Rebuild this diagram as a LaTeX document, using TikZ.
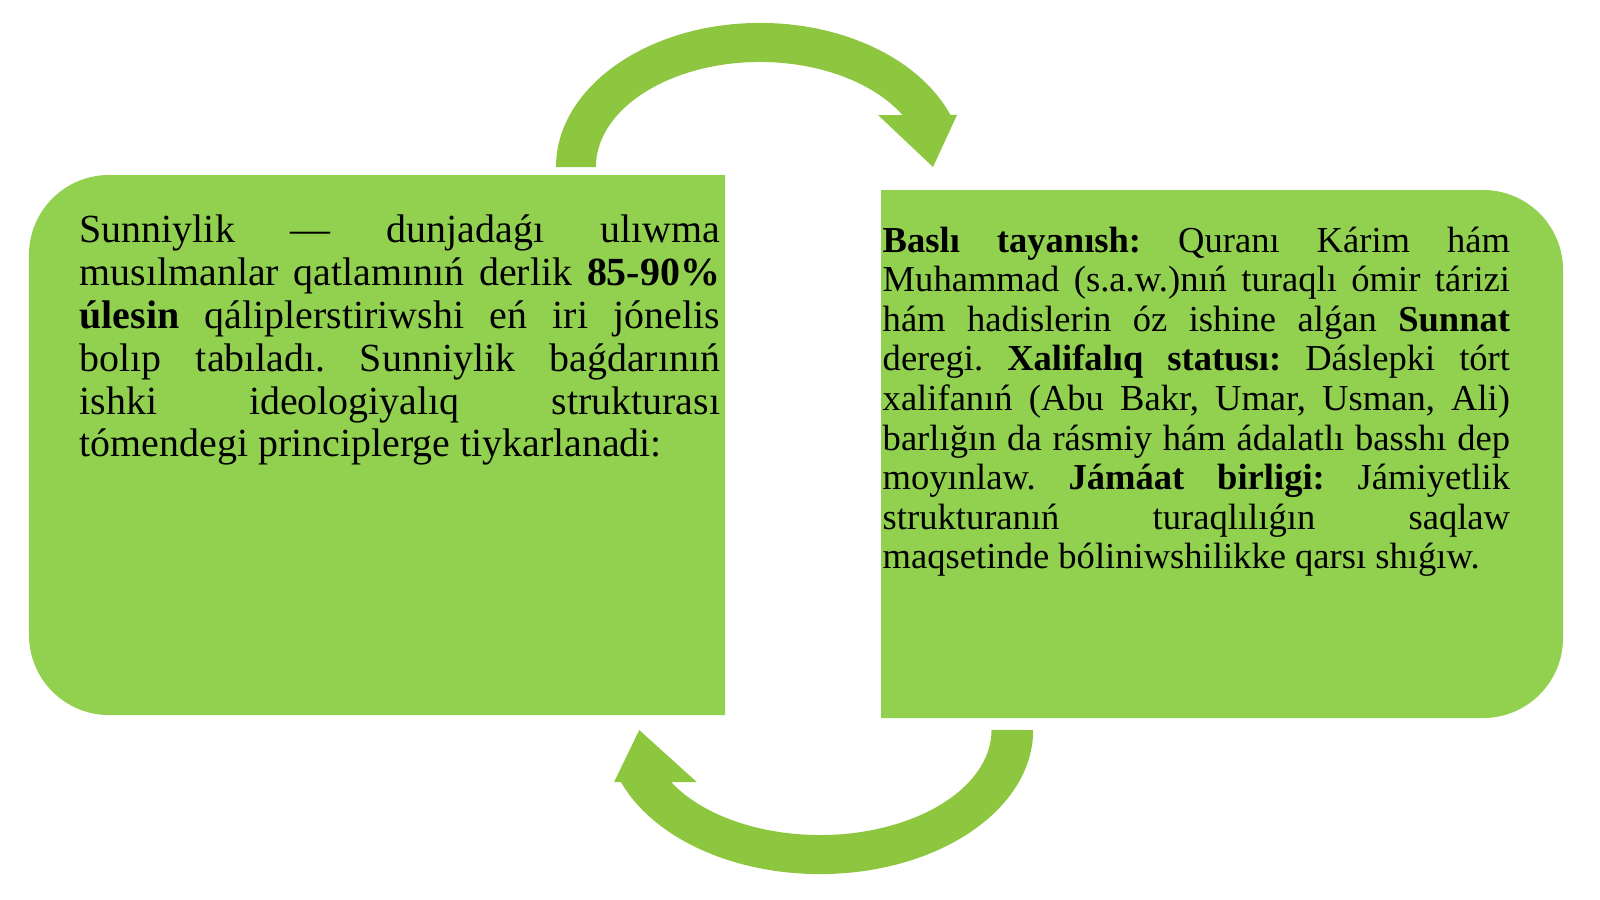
\documentclass[tikz,border=0pt]{standalone}
\usepackage{fontspec}
\setmainfont{Liberation Serif}
\usetikzlibrary{positioning}
\definecolor{boxgreen}{HTML}{92D050}
\definecolor{arrowgreen}{HTML}{8DC63F}

\begin{document}
\begin{tikzpicture}[
    x=0.01cm, y=0.01cm,
    panel/.style={fill=boxgreen},
    paneltext/.style={inner sep=0pt, align=justify, text=black, anchor=north west},
    curved arrow/.pic={
        \fill[arrowgreen] (-204,0) arc[start angle=180, end angle=21.2, x radius=2.04cm, y radius=1.44cm]
            -- (197,52) -- (173,0) -- (118,52) -- (142.5,52)
            arc[start angle=29.7, end angle=180, x radius=1.64cm, y radius=1.05cm] -- cycle;
    }
]
\useasboundingbox (0,0) rectangle (1600,899);

% Pfeile oben und unten
\pic at (760,732) {curved arrow};
\pic[rotate=180, xscale=1.045] at (820,169) {curved arrow};

% Linker Block (links abgerundet)
\path[panel] (725,724) -- (109,724) arc[start angle=90, end angle=180, radius=0.8cm]
    -- (29,264) arc[start angle=180, end angle=270, radius=0.8cm] -- (725,184) -- cycle;

% Rechter Block (rechts abgerundet)
\path[panel] (881,709) -- (1483,709) arc[start angle=90, end angle=0, radius=0.8cm]
    -- (1563,261) arc[start angle=0, end angle=-90, radius=0.8cm] -- (881,181) -- cycle;

% Texte
\node[paneltext, text width=6.40cm, font=\fontsize{11.35pt}{12.18pt}\selectfont\frenchspacing]
    at (79,687) (sunnitext) {\strut
Sunniylik — dunjadaǵı ulıwma\linebreak
musılmanlar qatlamınıń derlik \textbf{85-90\%}\linebreak
\textbf{úlesin} qáliplerstiriwshi eń iri jónelis\linebreak
bolıp tabıladı. Sunniylik baǵdarınıń\linebreak
ishki ideologiyalıq strukturası\linebreak
tómendegi principlerge tiykarlanadi:};

\node[paneltext, text width=6.27cm, font=\fontsize{10.4pt}{11.24pt}\selectfont\frenchspacing]
    at (882,675) (basistext) {\strut
\textbf{Baslı tayanısh:} Quranı Kárim hám\linebreak
Muhammad (s.a.w.)nıń turaqlı ómir tárizi\linebreak
hám hadislerin óz ishine alǵan \textbf{Sunnat}\linebreak
deregi. \textbf{Xalifalıq statusı:} Dáslepki tórt\linebreak
xalifanıń (Abu Bakr, Umar, Usman, Ali)\linebreak
barlığın da rásmiy hám ádalatlı basshı dep\linebreak
moyınlaw. \textbf{Jámáat birligi:} Jámiyetlik\linebreak
strukturanıń turaqlılıǵın saqlaw\linebreak
maqsetinde bóliniwshilikke qarsı shıǵıw.};
\end{tikzpicture}
\end{document}
